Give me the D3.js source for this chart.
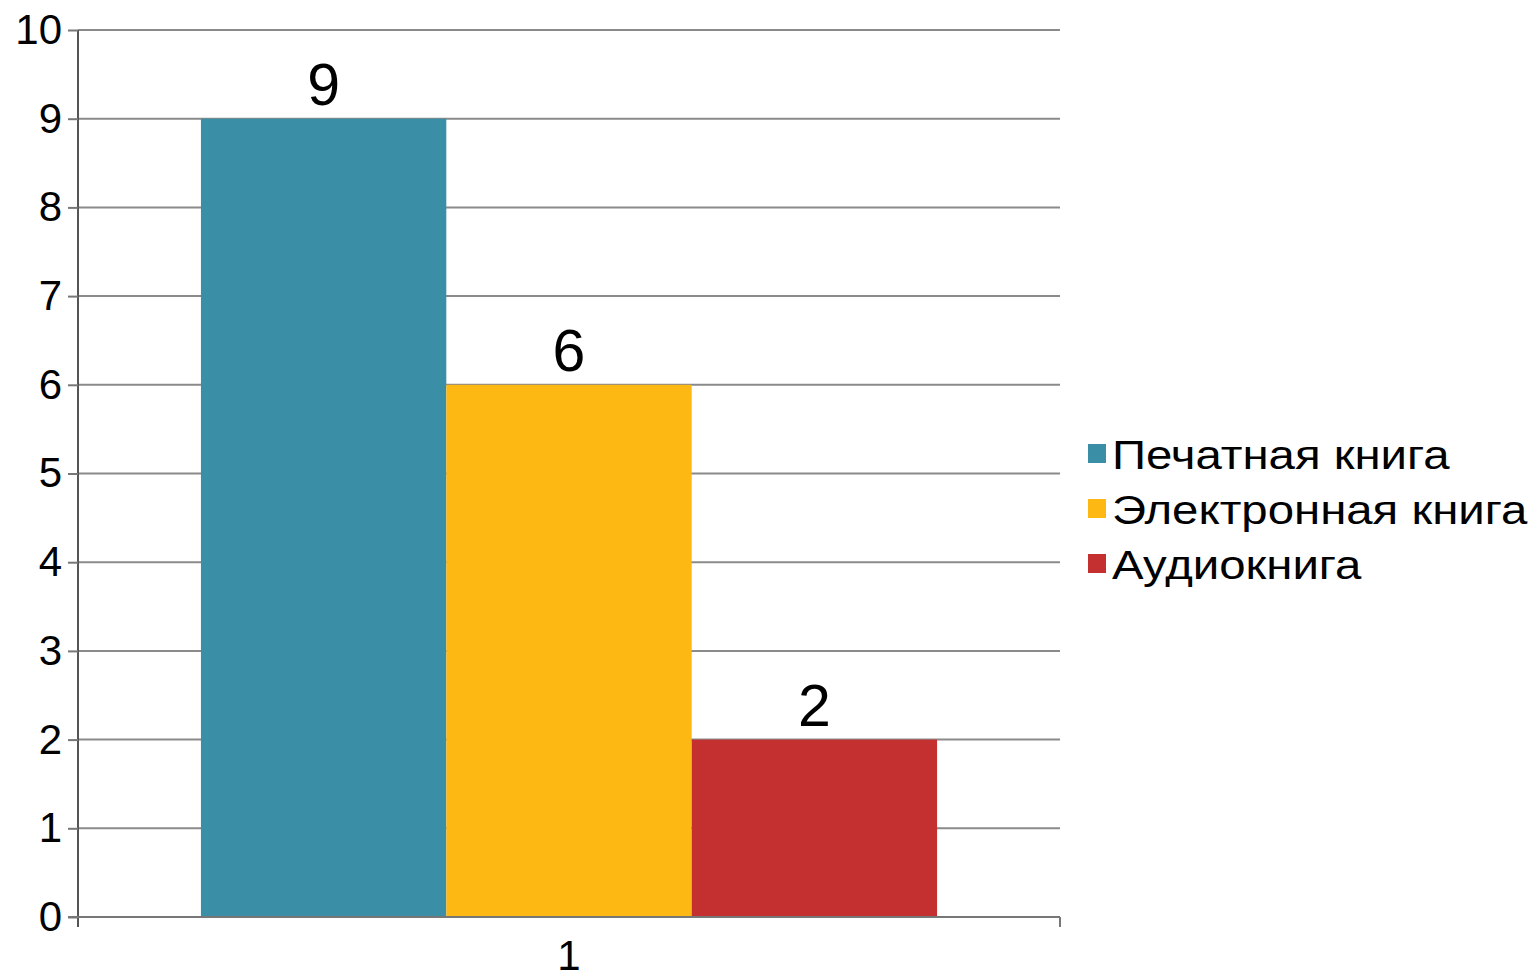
<!DOCTYPE html>
<html><head><meta charset="utf-8">
<script src="https://cdn.jsdelivr.net/npm/d3@7"></script>
<style>body{margin:0;background:#fff}svg{display:block}text{font-family:"Liberation Sans",Arial,sans-serif;fill:#000}</style>
</head><body>
<script>
const categories = ["1"];
const seriesNames = ["Печатная книга", "Электронная книга", "Аудиокнига"];
const seriesValues = [9, 6, 2];
const seriesColors = ["#3a8fa6", "#fdb813", "#c3302f"];
const yTicks = [0,1,2,3,4,5,6,7,8,9,10];

(function () {
const W = 1540, H = 976;
const svg = d3.select("body").append("svg").attr("width", W).attr("height", H);
const mLeft = 78, mRight = 1060, mTop = 30, mBottom = 917;

const y = d3.scaleLinear().domain([0, 10]).range([mBottom, mTop]);
const x0 = d3.scaleBand().domain(categories).range([mLeft, mRight]).paddingInner(0).paddingOuter(0.167);
const x1 = d3.scaleBand().domain(seriesNames).range([0, x0.bandwidth()]);

// gridlines
svg.append("g").selectAll("line").data(yTicks.filter(d => d > 0)).join("line")
  .attr("x1", mLeft).attr("x2", mRight).attr("y1", d => y(d)).attr("y2", d => y(d))
  .attr("stroke", "#8a8a8a").attr("stroke-width", 2);

// bars
const g = svg.append("g");
categories.forEach(c => {
  g.selectAll("rect").data(seriesNames).join("rect")
    .attr("x", d => x0(c) + x1(d)).attr("width", x1.bandwidth())
    .attr("y", (d, i) => y(seriesValues[i])).attr("height", (d, i) => mBottom - y(seriesValues[i]))
    .attr("fill", (d, i) => seriesColors[i]);
  g.selectAll("text.v").data(seriesNames).join("text").attr("class", "v")
    .attr("x", d => x0(c) + x1(d) + x1.bandwidth() / 2)
    .attr("y", (d, i) => y(seriesValues[i]) - 14)
    .attr("text-anchor", "middle").attr("font-size", 59)
    .text((d, i) => seriesValues[i]);
});

// y axis
const yAxis = d3.axisLeft(y).tickValues(yTicks).tickSize(10).tickPadding(6).tickFormat(d3.format("d"));
const ya = svg.append("g").attr("transform", `translate(${mLeft},0)`).call(yAxis);
ya.select(".domain").attr("stroke", "#555").attr("stroke-width", 2).attr("d", `M0,${mTop}V${mBottom + 10}`);
ya.selectAll(".tick line").attr("stroke", "#777").attr("stroke-width", 2);
ya.selectAll(".tick text").attr("font-size", 42).attr("fill", "#000").attr("font-family", "Liberation Sans, Arial, sans-serif");

// x axis
const xa = svg.append("g").attr("transform", `translate(0,${mBottom})`);
xa.append("line").attr("x1", mLeft - 10).attr("x2", mRight).attr("y1", 0).attr("y2", 0).attr("stroke", "#777").attr("stroke-width", 2);
xa.append("line").attr("x1", mRight).attr("x2", mRight).attr("y1", 0).attr("y2", 10).attr("stroke", "#777").attr("stroke-width", 2);
xa.selectAll("text").data(categories).join("text")
  .attr("x", d => x0(d) + x0.bandwidth() / 2).attr("y", 53)
  .attr("text-anchor", "middle").attr("font-size", 42).text(d => d);

// legend
const lg = svg.append("g").attr("transform", "translate(1088,469)");
seriesNames.forEach((n, i) => {
  lg.append("rect").attr("x", 0).attr("y", i * 55 - 25).attr("width", 18).attr("height", 19).attr("fill", seriesColors[i]);
  lg.append("text").attr("transform", `translate(24,${i * 55}) scale(1.155,1)`).attr("font-size", 41).text(n);
});
})();
</script>
</body></html>
